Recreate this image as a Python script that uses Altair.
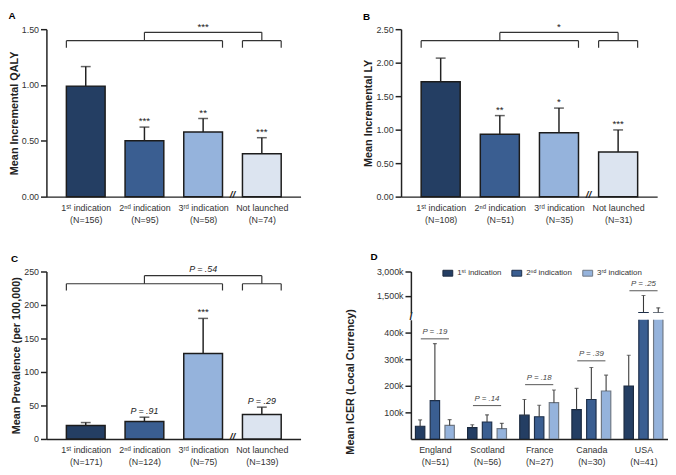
import altair as alt
import pandas as pd

FONT = "Liberation Sans"
COLORS = ["#243e63", "#3a5e91", "#95b3dc", "#dce4f0"]
D_STROKES = ["#1b2a40", "#1d2f4a", "#6f7884"]
EDGE = "#1c1c1c"
INK = "#222222"
TEXT = "#333333"

# ---------------- panels A-C: categories ----------------
categories = ["1ˢᵗ indication", "2ⁿᵈ indication", "3ʳᵈ indication", "Not launched"]
cat_pos = [1, 2, 3, 4]

# Panel A
a_n = [156, 95, 58, 74]
a_mean = [0.99, 0.50, 0.578, 0.385]
a_err = [1.165, 0.623, 0.70, 0.528]
a_sig = ["", "***", "**", "***"]
a_overall = "***"
a_bracket = [1.334, 1.397, 1.472]
a_yticks = [0, 0.5, 1.0, 1.5]

# Panel B
b_n = [108, 51, 35, 31]
b_mean = [1.715, 0.93, 0.955, 0.665]
b_err = [2.068, 1.21, 1.322, 0.996]
b_sig = ["", "**", "*", "***"]
b_overall = "*"
b_bracket = [2.222, 2.328, 2.452]
b_yticks = [0, 0.5, 1.0, 1.5, 2.0, 2.5]

# Panel C
c_n = [171, 124, 75, 139]
c_mean = [20, 26, 127.5, 36.5]
c_err = [24.5, 32.5, 180, 47.5]
c_sig = ["", "P = .91", "***", "P = .29"]
c_overall = "P = .54"
c_bracket = [221.7, 231.7, 243.8]
c_yticks = [0, 50, 100, 150, 200, 250]

# Panel D
countries = ["England", "Scotland", "France", "Canada", "USA"]
country_pos = [1, 2, 3, 4, 5]
d_n = [51, 56, 27, 30, 41]
indications = ["1ˢᵗ indication", "2ⁿᵈ indication", "3ʳᵈ indication"]
d_mean_1 = [48000, 43000, 90000, 111000, 200000]
d_err_1 = [72000, 54000, 149000, 191000, 316000]
d_mean_2 = [145000, 64000, 84000, 149000, 470000]
d_err_2 = [360000, 91000, 127000, 270000, 1520000]
d_mean_3 = [51000, 39000, 137000, 181000, 470000]
d_err_3 = [73000, 59000, 185000, 241000, 760000]
d_pvalue = ["P = .19", "P = .14", "P = .18", "P = .39", "P = .25"]
d_plevel = [378000, 126000, 205000, 295000, 1814000]
d_lower_ticks = [100000, 200000, 300000, 400000]
d_upper_ticks = [1500000, 3000000]
D_LOWER = [0, 450000]
D_UPPER = [450000, 3000000]

# ---------------- layout constants ----------------
W_A, W_B, H = 258, 260, 170
XDOM = [0.33, 4.66]
HALF = 0.33
W_D = 261
DU_H, DL_H = 42, 121
DXDOM = [0.54, 5.47]
D_OFF = [-0.283, 0.0, 0.283]
D_HALF = 0.09


def label_expr(pos, line1, line2):
    expr = "''"
    for p, a, b in reversed(list(zip(pos, line1, line2))):
        expr = f"datum.value == {p} ? ['{a}', '{b}'] : {expr}"
    return expr


def y_axis(values, title, title_pad, fmt=None, label_expr_=None, **kw):
    args = dict(values=values, title=title, titleFontSize=11, titleFontWeight="bold",
                titlePadding=title_pad, labelFontSize=9, labelColor=TEXT, titleColor=INK,
                tickSize=6, tickWidth=1.5, domainWidth=1.5, domainColor=INK, tickColor=INK,
                labelPadding=2, grid=False)
    if fmt:
        args["format"] = fmt
    if label_expr_:
        args["labelExpr"] = label_expr_
    args.update(kw)
    return alt.Axis(**args)


def x_axis(values, expr):
    return alt.Axis(values=values, labelExpr=expr, ticks=False, title=None, labelPadding=7,
                    labelFontSize=9, labelLineHeight=12, labelColor=TEXT, labelFlush=False,
                    labelOverlap=False, domainWidth=1.5, domainColor=INK, grid=False)


def abc_panel(letter, n, mean, err, sig, overall, bracket, yticks, yfmt, ytitle, title_pad, width):
    df = pd.DataFrame({"cat": categories, "pos": cat_pos, "mean": mean, "err": err, "sig": sig})
    df["lo"] = df["pos"] - HALF
    df["hi"] = df["pos"] + HALF
    df["zero"] = 0.0
    xs = alt.Scale(domain=XDOM, nice=False, zero=False)
    ys = alt.Scale(domain=[yticks[0], yticks[-1]], nice=False, zero=False)
    xax = x_axis(cat_pos, label_expr(cat_pos, categories, [f"(N={v})" for v in n]))
    yax = y_axis(yticks, ytitle, title_pad, fmt=yfmt)

    def X(f):
        return alt.X(f, type="quantitative", scale=xs, axis=xax)

    def Y(f):
        return alt.Y(f, type="quantitative", scale=ys, axis=yax)

    base = alt.Chart(df)
    bars = base.mark_rect(stroke=EDGE, strokeWidth=1.5).encode(
        x=X("lo"), x2="hi", y=Y("mean"), y2="zero",
        color=alt.Color("cat:N", scale=alt.Scale(domain=categories, range=COLORS), legend=None))
    err_l = base.mark_rule(color=INK, strokeWidth=1.5).encode(x=X("pos"), y=Y("mean"), y2="err")
    caps = base.mark_tick(color=INK, thickness=1.5, size=10, orient="horizontal").encode(
        x=X("pos"), y=Y("err"))
    stars = base.transform_filter("datum.sig != '' && indexof(datum.sig, 'P') < 0").mark_text(
        fontSize=10, dy=-3, baseline="alphabetic", color=INK).encode(x=X("pos"), y=Y("err"), text="sig:N")
    ptext = base.transform_filter("indexof(datum.sig, 'P') == 0").mark_text(
        fontSize=9, dy=-3, baseline="alphabetic", fontStyle="italic", color=INK).encode(
        x=X("pos"), y=Y("err"), text="sig:N")

    lo, mid, top = bracket
    L0, L1 = cat_pos[0] - HALF, cat_pos[2] + HALF
    R0, R1 = cat_pos[3] - HALF, cat_pos[3] + HALF
    cl, cr = (L0 + L1) / 2, (R0 + R1) / 2
    segs = [(L0, L1, mid, mid), (L0, L0, lo, mid), (L1, L1, lo, mid),
            (R0, R1, mid, mid), (R0, R0, lo, mid), (R1, R1, lo, mid),
            (cl, cr, top, top), (cl, cl, mid, top), (cr, cr, mid, top)]
    bdf = pd.DataFrame(segs, columns=["x", "x2", "y", "y2"])
    brackets = alt.Chart(bdf).mark_rule(color="#333333", strokeWidth=1.2).encode(
        x=X("x"), x2="x2", y=Y("y"), y2="y2")
    odf = pd.DataFrame({"x": [(cl + cr) / 2], "y": [top], "t": [overall]})
    is_p = overall.startswith("P")
    over = alt.Chart(odf).mark_text(fontSize=9 if is_p else 10, dy=-4 if is_p else -2,
                                    baseline="alphabetic", color=INK,
                                    fontStyle="italic" if is_p else "normal").encode(
        x=X("x"), y=Y("y"), text="t:N")
    kdf = pd.DataFrame({"x": [(cat_pos[2] + cat_pos[3]) / 2], "y": [yticks[0]]})
    brk = alt.Chart(kdf).mark_text(text="//", fontSize=10, fontWeight="bold", fontStyle="italic",
                                   baseline="middle", dy=-2, color=INK).encode(x=X("x"), y=Y("y"))
    return alt.layer(bars, err_l, caps, stars, ptext, brackets, over, brk).properties(
        width=width, height=H,
        title=alt.TitleParams(letter, anchor="start", fontSize=10, fontWeight="bold", offset=1, color="#000"))


# ---------------- panel D ----------------
d_means = [d_mean_1, d_mean_2, d_mean_3]
d_errs = [d_err_1, d_err_2, d_err_3]
rows = []
for ii, ind in enumerate(indications):
    for gi, c in enumerate(countries):
        pos = country_pos[gi] + D_OFF[ii]
        rows.append(dict(ind=ind, country=c, pos=pos, lo=pos - D_HALF, hi=pos + D_HALF,
                         mean=d_means[ii][gi], err=d_errs[ii][gi], zero=0))
ddf = pd.DataFrame(rows)
pdf = pd.DataFrame({"pos": country_pos, "p": d_pvalue, "level": d_plevel})
pdf["x"] = pdf["pos"] - 0.27
pdf["x2"] = pdf["pos"] + 0.27

kfmt = "format(datum.value / 1000, ',') + 'k'"


def d_segment(ydom, h, yax, xax, legend, ann_filter, extra=None, title=None):
    xs = alt.Scale(domain=DXDOM, nice=False, zero=False)
    ys = alt.Scale(domain=ydom, nice=False, zero=False)

    def X(f):
        return alt.X(f, type="quantitative", scale=xs, axis=xax)

    def Y(f):
        return alt.Y(f, type="quantitative", scale=ys, axis=yax)

    base = alt.Chart(ddf)
    bars = base.mark_rect(strokeWidth=1.2, clip=True).encode(
        x=X("lo"), x2="hi", y=Y("mean"), y2="zero",
        color=alt.Color("ind:N", scale=alt.Scale(domain=indications, range=COLORS[:3]), legend=legend),
        stroke=alt.Stroke("ind:N", scale=alt.Scale(domain=indications, range=D_STROKES), legend=None))
    err_l = base.mark_rule(color="#3a3a3a", strokeWidth=1.1, clip=True).encode(
        x=X("pos"), y=Y("mean"), y2="err")
    caps = base.mark_tick(color="#3a3a3a", thickness=1.1, size=4, orient="horizontal", clip=True).encode(
        x=X("pos"), y=Y("err"))
    pann = alt.Chart(pdf).transform_filter(ann_filter)
    pl = pann.mark_rule(color="#555555", strokeWidth=1).encode(x=X("x"), x2="x2", y=Y("level"))
    pt = pann.mark_text(fontSize=8, fontStyle="italic", dy=-5, baseline="alphabetic", color="#444444").encode(
        x=X("pos"), y=Y("level"), text="p:N")
    layers = [bars, err_l, caps, pl, pt]
    if extra is not None:
        layers.append(extra(X, Y))
    props = dict(width=W_D, height=h)
    if title is not None:
        props["title"] = title
    return alt.layer(*layers).properties(**props)


def slash(X, Y):
    sdf = pd.DataFrame({"x": [DXDOM[0]], "y": [D_UPPER[0]]})
    return alt.Chart(sdf).mark_text(text="/", fontSize=11, fontWeight="bold", dy=4,
                                    baseline="middle", color=INK).encode(x=X("x"), y=Y("y"))


legend = alt.Legend(orient="none", legendX=32, legendY=-4, direction="horizontal", title=None,
                    symbolType="M-1,-0.6L1,-0.6L1,0.6L-1,0.6Z", symbolSize=100,
                    symbolStrokeColor=EDGE, symbolStrokeWidth=1, labelFontSize=8,
                    labelOffset=4, columnPadding=8, labelColor=TEXT)

d_up = d_segment(D_UPPER, DU_H,
                 y_axis(d_upper_ticks, None, 0, label_expr_=kfmt),
                 None, legend, f"datum.level > {D_LOWER[1]}", extra=slash,
                 title=alt.TitleParams("D", anchor="start", frame="group", dx=-41, fontSize=10,
                                       fontWeight="bold", offset=6, color="#000"))
d_lo = d_segment(D_LOWER, DL_H,
                 y_axis(d_lower_ticks, "Mean ICER (Local Currency)", 29, label_expr_=kfmt,
                        titleY=DL_H / 2 + 2),
                 x_axis(country_pos, label_expr(country_pos, countries, [f"(N={v})" for v in d_n])),
                 None, f"datum.level <= {D_LOWER[1]}")
panel_d = alt.vconcat(d_up, d_lo, spacing=7, bounds="flush").resolve_scale(
    x="independent", y="independent", color="independent", stroke="independent")

panel_a = abc_panel("A", a_n, a_mean, a_err, a_sig, a_overall, a_bracket, a_yticks, ".2f",
                    "Mean Incremental QALY", 2, W_A)
panel_b = abc_panel("B", b_n, b_mean, b_err, b_sig, b_overall, b_bracket, b_yticks, ".2f",
                    "Mean Incremental LY", 2, W_B)
panel_c = abc_panel("C", c_n, c_mean, c_err, c_sig, c_overall, c_bracket, c_yticks, "d",
                    "Mean Prevalence (per 100,000)", 2, W_A)

row1 = alt.hconcat(panel_a, panel_b, spacing=102, bounds="flush").resolve_scale(
    x="independent", y="independent", color="independent")
row2 = alt.hconcat(panel_c, panel_d, spacing=44).resolve_scale(
    x="independent", y="independent", color="independent", stroke="independent")

chart = alt.vconcat(row1, row2, spacing=28).resolve_scale(
    x="independent", y="independent", color="independent", stroke="independent"
).properties(padding=0).configure(font=FONT).configure_view(stroke=None)

chart.save("out.html", embed_options={"renderer": "svg", "actions": False})
